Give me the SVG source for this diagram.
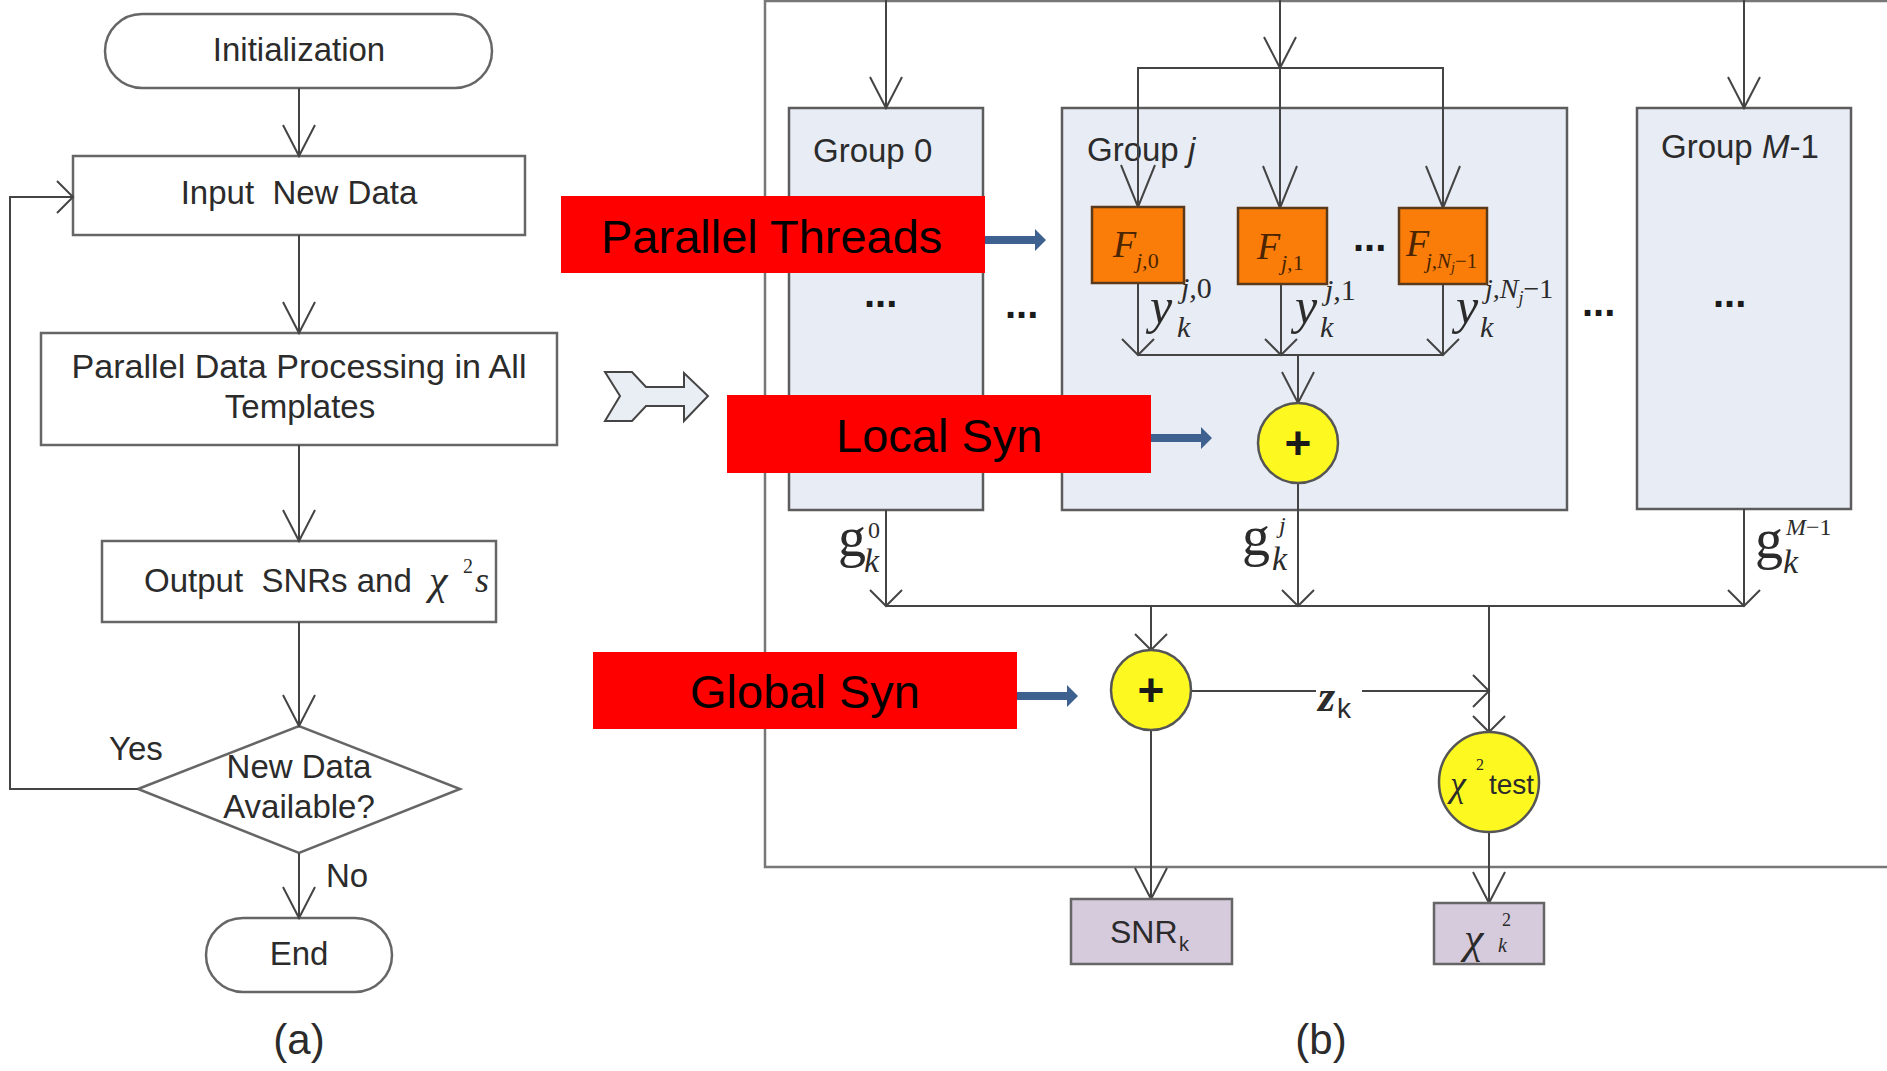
<svg xmlns="http://www.w3.org/2000/svg" width="1887" height="1071" viewBox="0 0 1887 1071">
  <style>
    .sans { font-family: "Liberation Sans", Arial, sans-serif; fill: #2b2b2b; }
    .serif { font-family: "Liberation Serif", "Times New Roman", serif; fill: #2b2b2b; }
    .it { font-style: italic; }
    .fc { font-size: 33px; }
    .box { fill: #ffffff; stroke: #666666; stroke-width: 2.5; }
    .grp { fill: #e8ecf5; stroke: #5c5c5c; stroke-width: 2.5; }
    .fbox { fill: #fa7d0a; stroke: #5a3a1a; stroke-width: 2.5; }
    .ftxt { font-family: "Liberation Serif", "Times New Roman", serif; font-style: italic; fill: #4a2500; }
    .sum { fill: #fcf820; stroke: #555555; stroke-width: 2.5; }
    .out { fill: #d6cadd; stroke: #666666; stroke-width: 2.5; }
    .red { fill: #ff0000; }
    .redtxt { font-family: "Liberation Sans", Arial, sans-serif; font-size: 47px; fill: #000000; }
    .blue { fill: #3f6190; }
    .ln { fill: none; stroke: #444444; stroke-width: 2; }
    .dots { font-family: "Liberation Sans", Arial, sans-serif; font-weight: bold; font-size: 40px; fill: #1a1a1a; }
    .plus { font-family: "Liberation Sans", Arial, sans-serif; font-weight: bold; font-size: 46px; fill: #1a1a1a; text-anchor: middle; }
  </style>
  <defs>
    <marker id="vTall" markerUnits="userSpaceOnUse" orient="auto" viewBox="-35 -20 40 40" markerWidth="40" markerHeight="40" refX="0" refY="0" overflow="visible">
      <path d="M-31,-16 L0,0 L-31,16" fill="none" stroke="#444444" stroke-width="2"/>
    </marker>
    <marker id="vLong" markerUnits="userSpaceOnUse" orient="auto" viewBox="-46 -20 50 40" markerWidth="50" markerHeight="40" refX="0" refY="0" overflow="visible">
      <path d="M-42,-17 L0,0 L-42,17" fill="none" stroke="#444444" stroke-width="2"/>
    </marker>
    <marker id="vShort" markerUnits="userSpaceOnUse" orient="auto" viewBox="-20 -20 24 40" markerWidth="24" markerHeight="40" refX="0" refY="0" overflow="visible">
      <path d="M-16,-16 L0,0 L-16,16" fill="none" stroke="#444444" stroke-width="2"/>
    </marker>
  </defs>

  <rect width="1887" height="1071" fill="#ffffff"/>

  <!-- (a) flowchart -->
  <g id="init">
    <rect class="box" x="105" y="14" width="387" height="74" rx="37"/>
    <text class="sans fc" x="299" y="61" text-anchor="middle">Initialization</text>
  </g>
  <g id="input">
    <rect class="box" x="73" y="156" width="452" height="79"/>
    <text class="sans fc" x="299" y="204" text-anchor="middle" xml:space="preserve">Input  New Data</text>
  </g>
  <g id="process">
    <rect class="box" x="41" y="333" width="516" height="112"/>
    <text class="sans fc" x="299" y="378" text-anchor="middle" textLength="455" lengthAdjust="spacingAndGlyphs">Parallel Data Processing in All</text>
    <text class="sans fc" x="300" y="418" text-anchor="middle">Templates</text>
  </g>
  <g id="output">
    <rect class="box" x="102" y="541" width="394" height="81"/>
    <text class="sans fc" x="144" y="592" xml:space="preserve">Output  SNRs and</text>
    <text class="serif it" x="429" y="594" font-size="42">χ</text>
    <text class="serif" x="463" y="573" font-size="20">2</text>
    <text class="serif it" x="475" y="592" font-size="36">s</text>
  </g>
  <g id="decision">
    <polygon class="box" points="138,789 299,726 460,789 299,853"/>
    <text class="sans fc" x="299" y="778" text-anchor="middle">New Data</text>
    <text class="sans fc" x="299" y="818" text-anchor="middle">Available?</text>
  </g>
  <g id="end">
    <rect class="box" x="206" y="918" width="186" height="74" rx="37"/>
    <text class="sans fc" x="299" y="965" text-anchor="middle">End</text>
  </g>
  <text class="sans fc" x="109" y="760">Yes</text>
  <text class="sans fc" x="326" y="887">No</text>
  <text class="sans" x="299" y="1054" font-size="42" text-anchor="middle">(a)</text>

  <!-- transition chevron between (a) and (b) -->
  <polygon points="605,372 632,372 646,387 684,387 684,373 708,396 684,421 684,406 646,406 632,421 605,421 620,396" fill="#e9edf4" stroke="#444444" stroke-width="2"/>

  <!-- (b) outer frame -->
  <rect x="765" y="1" width="1140" height="866" fill="none" stroke="#777777" stroke-width="2.5"/>

  <!-- groups -->
  <g id="group0">
    <rect class="grp" x="789" y="108" width="194" height="402"/>
    <text class="sans fc" x="813" y="162">Group 0</text>
    <text class="dots" x="864" y="307">...</text>
  </g>
  <g id="groupj">
    <rect class="grp" x="1062" y="108" width="505" height="402"/>
    <text class="sans fc" x="1087" y="161">Group <tspan font-style="italic">j</tspan></text>
  </g>
  <g id="groupM">
    <rect class="grp" x="1637" y="108" width="214" height="401"/>
    <text class="sans fc" x="1661" y="158">Group <tspan font-style="italic">M</tspan>-1</text>
    <text class="dots" x="1713" y="307">...</text>
  </g>
  <text class="dots" x="1005" y="318">...</text>
  <text class="dots" x="1582" y="316">...</text>

  <!-- connectors -->
  <g id="connectors">
    <!-- flowchart -->
    <line class="ln" x1="299" y1="88" x2="299" y2="156" marker-end="url(#vTall)"/>
    <line class="ln" x1="299" y1="235" x2="299" y2="333" marker-end="url(#vTall)"/>
    <line class="ln" x1="299" y1="445" x2="299" y2="541" marker-end="url(#vTall)"/>
    <line class="ln" x1="299" y1="622" x2="299" y2="726" marker-end="url(#vTall)"/>
    <line class="ln" x1="299" y1="853" x2="299" y2="918" marker-end="url(#vTall)"/>
    <polyline class="ln" points="138,789 10,789 10,197 73,197" marker-end="url(#vShort)"/>

    <!-- group inputs -->
    <line class="ln" x1="886" y1="0" x2="886" y2="108" marker-end="url(#vTall)"/>
    <line class="ln" x1="1744" y1="0" x2="1744" y2="108" marker-end="url(#vTall)"/>
    <line class="ln" x1="1280" y1="0" x2="1280" y2="68" marker-end="url(#vTall)"/>
    <polyline class="ln" points="1138,207 1138,68 1443,68 1443,208"/>
    <line class="ln" x1="1138" y1="68" x2="1138" y2="207" marker-end="url(#vLong)"/>
    <line class="ln" x1="1280" y1="68" x2="1280" y2="208" marker-end="url(#vLong)"/>
    <line class="ln" x1="1443" y1="68" x2="1443" y2="208" marker-end="url(#vLong)"/>

    <!-- thread outputs to local sum -->
    <line class="ln" x1="1138" y1="283" x2="1138" y2="355" marker-end="url(#vShort)"/>
    <line class="ln" x1="1281" y1="284" x2="1281" y2="355" marker-end="url(#vShort)"/>
    <line class="ln" x1="1443" y1="284" x2="1443" y2="355" marker-end="url(#vShort)"/>
    <line class="ln" x1="1138" y1="355" x2="1443" y2="355"/>
    <line class="ln" x1="1298" y1="355" x2="1298" y2="403" marker-end="url(#vTall)"/>

    <!-- group outputs to global bus -->
    <line class="ln" x1="886" y1="510" x2="886" y2="606" marker-end="url(#vShort)"/>
    <line class="ln" x1="1298" y1="483" x2="1298" y2="606" marker-end="url(#vShort)"/>
    <line class="ln" x1="1744" y1="509" x2="1744" y2="606" marker-end="url(#vShort)"/>
    <line class="ln" x1="886" y1="606" x2="1744" y2="606"/>
    <line class="ln" x1="1151" y1="606" x2="1151" y2="650" marker-end="url(#vShort)"/>
    <line class="ln" x1="1489" y1="606" x2="1489" y2="732" marker-end="url(#vShort)"/>

    <!-- z_k -->
    <line class="ln" x1="1191" y1="691" x2="1316" y2="691"/>
    <line class="ln" x1="1362" y1="691" x2="1489" y2="691" marker-end="url(#vShort)"/>

    <!-- results -->
    <line class="ln" x1="1151" y1="730" x2="1151" y2="899" marker-end="url(#vTall)"/>
    <line class="ln" x1="1489" y1="832" x2="1489" y2="903" marker-end="url(#vTall)"/>
  </g>

  <!-- threads of group j -->
  <g id="thread0">
    <rect class="fbox" x="1092" y="207" width="92" height="76"/>
    <text class="ftxt" x="1113" y="257" font-size="38">F</text>
    <text class="ftxt" x="1136" y="268" font-size="22">j,<tspan font-style="normal">0</tspan></text>
  </g>
  <g id="thread1">
    <rect class="fbox" x="1238" y="208" width="89" height="76"/>
    <text class="ftxt" x="1257" y="259" font-size="38">F</text>
    <text class="ftxt" x="1281" y="270" font-size="22">j,<tspan font-style="normal">1</tspan></text>
  </g>
  <g id="threadN">
    <rect class="fbox" x="1399" y="208" width="88" height="76"/>
    <text class="ftxt" x="1406" y="256" font-size="38">F</text>
    <text class="ftxt" x="1426" y="268" font-size="21">j,N<tspan font-size="14" dy="4">j</tspan><tspan font-style="normal" dy="-4">−1</tspan></text>
  </g>
  <text class="dots" x="1353" y="251">...</text>

  <!-- thread output labels -->
  <g id="y0">
    <text class="serif it" x="1150" y="323" font-size="50">y</text>
    <text class="serif it" x="1181" y="298" font-size="30">j,<tspan font-style="normal">0</tspan></text>
    <text class="serif it" x="1177" y="337" font-size="30">k</text>
  </g>
  <g id="y1">
    <text class="serif it" x="1295" y="323" font-size="50">y</text>
    <text class="serif it" x="1325" y="300" font-size="30">j,<tspan font-style="normal">1</tspan></text>
    <text class="serif it" x="1320" y="337" font-size="30">k</text>
  </g>
  <g id="yN">
    <text class="serif it" x="1456" y="323" font-size="50">y</text>
    <text class="serif it" x="1485" y="298" font-size="28">j,N<tspan font-size="18" dy="6">j</tspan><tspan font-style="normal" dy="-6">−1</tspan></text>
    <text class="serif it" x="1480" y="337" font-size="30">k</text>
  </g>

  <!-- group output labels -->
  <g id="g0">
    <text class="serif" x="838" y="556" font-size="56">g</text>
    <text class="serif" x="868" y="538" font-size="24">0</text>
    <text class="serif it" x="864" y="572" font-size="34">k</text>
  </g>
  <g id="gj">
    <text class="serif" x="1242" y="555" font-size="56">g</text>
    <text class="serif it" x="1279" y="533" font-size="24">j</text>
    <text class="serif it" x="1272" y="570" font-size="34">k</text>
  </g>
  <g id="gM">
    <text class="serif" x="1755" y="558" font-size="56">g</text>
    <text class="serif it" x="1786" y="535" font-size="24">M<tspan font-style="normal">−1</tspan></text>
    <text class="serif it" x="1783" y="573" font-size="34">k</text>
  </g>

  <!-- local and global synchronisation -->
  <g id="localSum">
    <circle class="sum" cx="1298" cy="443" r="40"/>
    <text class="plus" x="1298" y="459">+</text>
  </g>
  <g id="globalSum">
    <circle class="sum" cx="1151" cy="690" r="40"/>
    <text class="plus" x="1151" y="706">+</text>
  </g>
  <text class="serif it" x="1318" y="711" font-size="44" font-weight="bold">z</text>
  <text class="sans" x="1337" y="718" font-size="28">k</text>
  <g id="chiTest">
    <circle class="sum" cx="1489" cy="782" r="50"/>
    <text class="serif it" x="1450" y="796" font-size="36">χ</text>
    <text class="serif" x="1476" y="770" font-size="16">2</text>
    <text class="sans" x="1489" y="794" font-size="28">test</text>
  </g>

  <!-- results -->
  <g id="snr">
    <rect class="out" x="1071" y="899" width="161" height="65"/>
    <text class="sans" x="1110" y="943" font-size="32">SNR</text>
    <text class="sans" x="1179" y="951" font-size="20">k</text>
  </g>
  <g id="chi2">
    <rect class="out" x="1434" y="903" width="110" height="61"/>
    <text class="serif it" x="1464" y="953" font-size="44">χ</text>
    <text class="serif" x="1502" y="926" font-size="18">2</text>
    <text class="serif it" x="1498" y="952" font-size="20">k</text>
  </g>

  <!-- callouts -->
  <g id="calloutThreads">
    <rect class="red" x="561" y="196" width="424" height="77"/>
    <text class="redtxt" x="601" y="253">Parallel Threads</text>
    <polygon class="blue" points="985,236 1035,236 1035,229 1046,240 1035,251 1035,244 985,244"/>
  </g>
  <g id="calloutLocal">
    <rect class="red" x="727" y="395" width="424" height="78"/>
    <text class="redtxt" x="836" y="452">Local Syn</text>
    <polygon class="blue" points="1151,434 1201,434 1201,427 1212,438 1201,449 1201,442 1151,442"/>
  </g>
  <g id="calloutGlobal">
    <rect class="red" x="593" y="652" width="424" height="77"/>
    <text class="redtxt" x="690" y="708">Global Syn</text>
    <polygon class="blue" points="1017,692 1067,692 1067,685 1078,696 1067,707 1067,700 1017,700"/>
  </g>

  <text class="sans" x="1321" y="1054" font-size="42" text-anchor="middle">(b)</text>
</svg>
